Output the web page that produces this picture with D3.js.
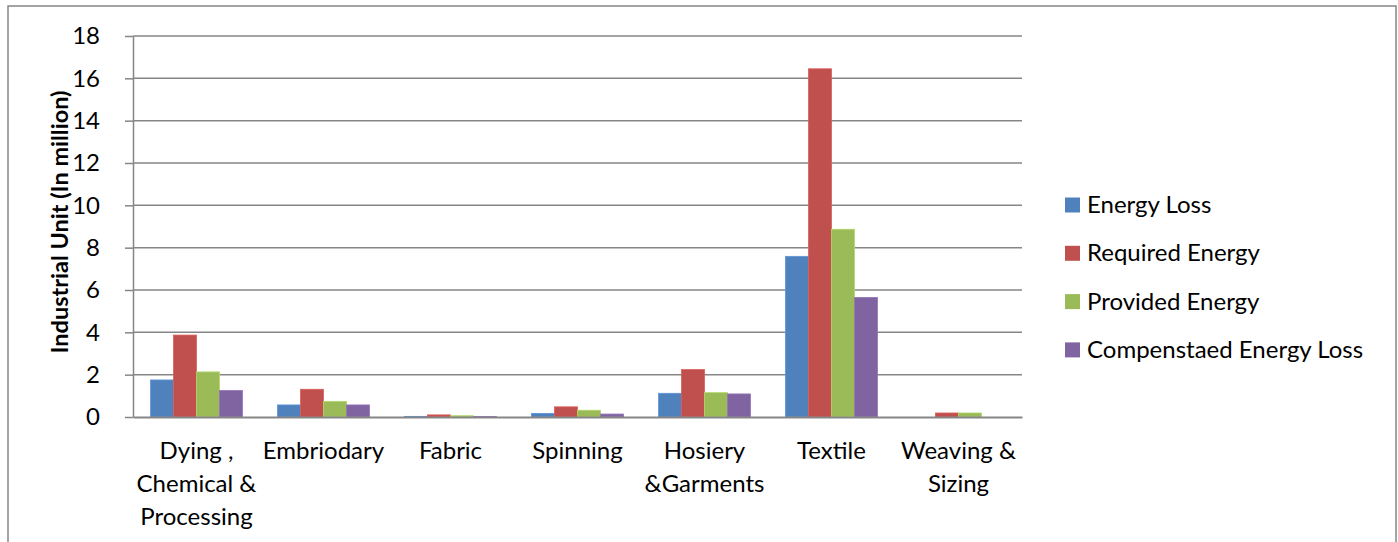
<!DOCTYPE html>
<html>
<head>
<meta charset="utf-8">
<script src="https://cdnjs.cloudflare.com/ajax/libs/d3/7.8.5/d3.min.js"></script>
<style>
  html, body { margin: 0; padding: 0; background: #fff; }
  svg { display: block; }
  text { font-family: Lato, "Open Sans", sans-serif; fill: #000; }
</style>
</head>
<body>
<svg id="chart" width="1398" height="542"></svg>
<script>
const categories = ["Dying , Chemical & Processing", "Embriodary", "Fabric", "Spinning", "Hosiery &Garments", "Textile", "Weaving & Sizing"];
const categoryLabelLines = [["Dying ,", "Chemical &", "Processing"], ["Embriodary"], ["Fabric"], ["Spinning"], ["Hosiery", "&Garments"], ["Textile"], ["Weaving &", "Sizing"]];
const seriesNames = ["Energy Loss", "Required Energy", "Provided Energy", "Compenstaed Energy Loss"];
const energyLoss = [1.75, 0.57, 0.03, 0.17, 1.12, 7.59, 0.0];
const requiredEnergy = [3.87, 1.31, 0.10, 0.48, 2.24, 16.45, 0.19];
const providedEnergy = [2.13, 0.74, 0.06, 0.32, 1.15, 8.87, 0.19];
const compensatedLoss = [1.25, 0.57, 0.02, 0.14, 1.09, 5.65, 0.0];
const yTicks = [0, 2, 4, 6, 8, 10, 12, 14, 16, 18];
const colors = ["#4F81BD", "#C0504D", "#9BBB59", "#8064A2"];

const seriesValues = [energyLoss, requiredEnergy, providedEnergy, compensatedLoss];

const svg = d3.select("#chart");
const FS = 24;

// outer border
svg.append("rect")
  .attr("x", 8).attr("y", 6).attr("width", 1388).attr("height", 560)
  .attr("fill", "none").attr("stroke", "#868686").attr("stroke-width", 1.5);

const plotLeft = 133, plotRight = 1022, plotTop = 36, plotBottom = 417;

const y = d3.scaleLinear().domain([0, 18]).range([plotBottom, plotTop]);
const x0 = d3.scaleBand().domain(categories).range([plotLeft, plotRight]).padding(0);
const x1 = d3.scaleBand().domain(seriesNames).range([17.5, x0.bandwidth() - 17.5]).padding(0);

// gridlines
svg.append("g").selectAll("line")
  .data(yTicks.filter(t => t > 0))
  .join("line")
  .attr("x1", plotLeft).attr("x2", plotRight)
  .attr("y1", d => y(d)).attr("y2", d => y(d))
  .attr("stroke", "#868686").attr("stroke-width", 1.5);

// y axis
const yAxis = d3.axisLeft(y).tickValues(yTicks).tickSize(8).tickPadding(25).tickSizeOuter(0);
const gy = svg.append("g").attr("transform", `translate(${plotLeft},0)`).call(yAxis);
gy.select(".domain").attr("stroke", "#868686").attr("stroke-width", 1.5);
gy.selectAll(".tick line").attr("stroke", "#868686").attr("stroke-width", 1.5);
gy.selectAll(".tick text").attr("font-size", FS).attr("font-family", "Lato, sans-serif").attr("fill", "#000");

// bars
const groups = svg.append("g").selectAll("g")
  .data(categories)
  .join("g")
  .attr("transform", d => `translate(${x0(d)},0)`);

groups.selectAll("rect")
  .data((d, i) => seriesNames.map((s, j) => ({ s, j, v: seriesValues[j][i] })))
  .join("rect")
  .attr("x", d => x1(d.s))
  .attr("width", x1.bandwidth())
  .attr("y", d => y(d.v))
  .attr("height", d => y(0) - y(d.v))
  .attr("fill", d => colors[d.j])
  .attr("stroke", d => d3.color(colors[d.j]).brighter(0.4))
  .attr("stroke-width", 0.8);

// x axis
const xAxis = d3.axisBottom(x0).tickSize(0).tickFormat("");
const gx = svg.append("g").attr("transform", `translate(0,${plotBottom})`).call(xAxis);
gx.select(".domain").attr("stroke", "#868686").attr("stroke-width", 2);

// category labels
const lbl = svg.append("g").selectAll("text")
  .data(categories)
  .join("text")
  .attr("text-anchor", "middle")
  .attr("font-size", FS)
  .attr("x", d => x0(d) + x0.bandwidth() / 2)
  .attr("y", 459);
lbl.each(function(d, i) {
  const t = d3.select(this);
  categoryLabelLines[i].forEach((line, k) => {
    t.append("tspan").attr("x", x0(d) + x0.bandwidth() / 2).attr("dy", k === 0 ? 0 : 33).text(line);
  });
});

// y title
svg.append("text")
  .attr("transform", `translate(68,${222}) rotate(-90)`)
  .attr("text-anchor", "middle")
  .attr("font-size", 23.5)
  .attr("font-weight", "bold")
  .text("Industrial Unit (In million)");

// legend
const legend = svg.append("g").selectAll("g")
  .data(seriesNames)
  .join("g")
  .attr("transform", (d, i) => `translate(1065,${205 + i * 48.3})`);
legend.append("rect")
  .attr("x", 0).attr("y", -7.5).attr("width", 15).attr("height", 15)
  .attr("fill", (d, i) => colors[i]);
legend.append("text")
  .attr("x", 22).attr("y", 8)
  .attr("font-size", FS)
  .text(d => d);
</script>
</body>
</html>
